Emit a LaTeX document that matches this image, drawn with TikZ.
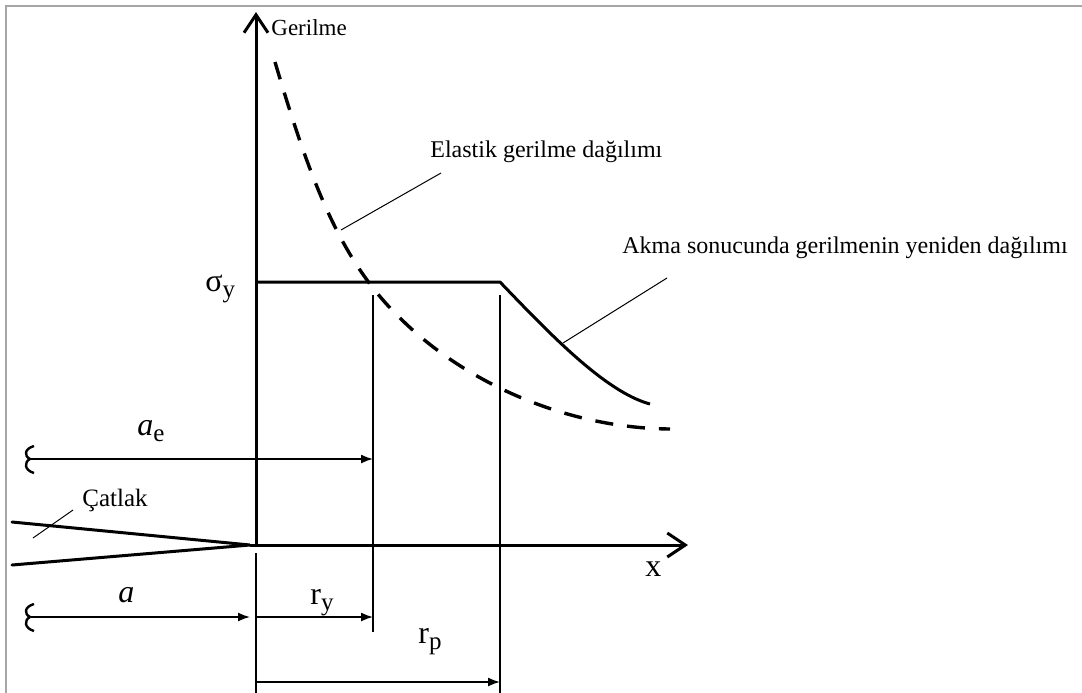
\documentclass[tikz,border=0pt]{standalone}
\usepackage{fontspec}
\setmainfont{Liberation Serif}
\usetikzlibrary{arrows.meta}
\definecolor{framegray}{HTML}{A6A6A6}
\newcommand{\lowsub}[1]{\raisebox{-3pt}{\fontsize{12.5}{12.5}\selectfont #1}}

\begin{document}
\begin{tikzpicture}[x=0.5pt, y=-0.5pt,
  axisline/.style={line width=1.5pt, -{Straight Barb[length=9pt, width=12pt]}},
  crack/.style={line width=1.5pt, line cap=round},
  stress/.style={line width=1.5pt, line join=round},
  elastic/.style={line width=1.7pt, dash pattern=on 9pt off 7pt},
  guide/.style={line width=0.8pt},
  dimarrow/.style={line width=0.8pt, -{Latex[length=6pt, width=4.5pt]}},
  brace/.style={line width=1.2pt},
  leader/.style={line width=0.5pt},
  note/.style={anchor=base west, inner sep=0pt, font=\fontsize{12}{14}\selectfont},
  sym/.style={anchor=base west, inner sep=0pt, font=\fontsize{16}{18}\selectfont}
]
\useasboundingbox (0,0) rectangle (1082,692);
\draw[framegray, line width=1pt] (6,6) rectangle (1110,720);

% axes and crack
\coordinate (O) at (256,545);
\coordinate (tip) at (250,545);
\draw[axisline] (O) -- (256,12);
\draw[axisline] (tip) -- (688,545);
\draw[crack] (12,522) -- (tip) -- (12,565);

% stress curves
\draw[stress] (256,282) -- (500,282) .. controls (548,332) and (605,392) .. (650,404);
\draw[elastic] (275,62) .. controls (310,180) and (340,260) .. (400,318)
  .. controls (460,378) and (560,428) .. (670,429);

% zone limits
\coordinate (ry) at (373,295);
\coordinate (rp) at (500,295);
\draw[guide] (ry) -- (373,632);
\draw[guide] (rp) -- (500,700);
\draw[guide] (256,553) -- (256,700);

% lengths
\coordinate (ae0) at (30,459);
\coordinate (a0) at (30,617);
\draw[dimarrow] (ae0) -- (373,459);
\draw[dimarrow] (a0) -- (250,617);
\draw[dimarrow] (256,617) -- (373,617);
\draw[dimarrow] (256,682) -- (500,682);
\draw[brace] (34,446) .. controls (24,449) and (24,456) .. (ae0) .. controls (24,462) and (24,470) .. (34,473);
\draw[brace] (34,604) .. controls (24,607) and (24,614) .. (a0) .. controls (24,620) and (24,628) .. (34,631);

% labels
\node[note, font=\fontsize{11.5}{14}\selectfont] (gerilme) at (271,35) {Gerilme};
\node[note] (elastik) at (430,157) {Elastik gerilme dağılımı};
\node[note] (akma) at (622,253) {Akma sonucunda gerilmenin yeniden dağılımı};
\node[note, font=\fontsize{12.5}{14}\selectfont] (catlak) at (82,506) {Çatlak};
\draw[leader] (341,230) -- (441,173);
\draw[leader] (563,343) -- (667,278);
\draw[leader] (73,510) -- (33,538);

\node[sym] (sy) at (205,291) {σ\lowsub{y}};
\node[sym] (ae) at (137,435) {\textit{a}\lowsub{e}};
\node[sym] (a) at (118,602) {\textit{a}};
\node[sym] (ryl) at (310,604) {r\lowsub{y}};
\node[sym] (rpl) at (418,643) {r\lowsub{p}};
\node[sym] (xl) at (645,576) {x};
\end{tikzpicture}
\end{document}
